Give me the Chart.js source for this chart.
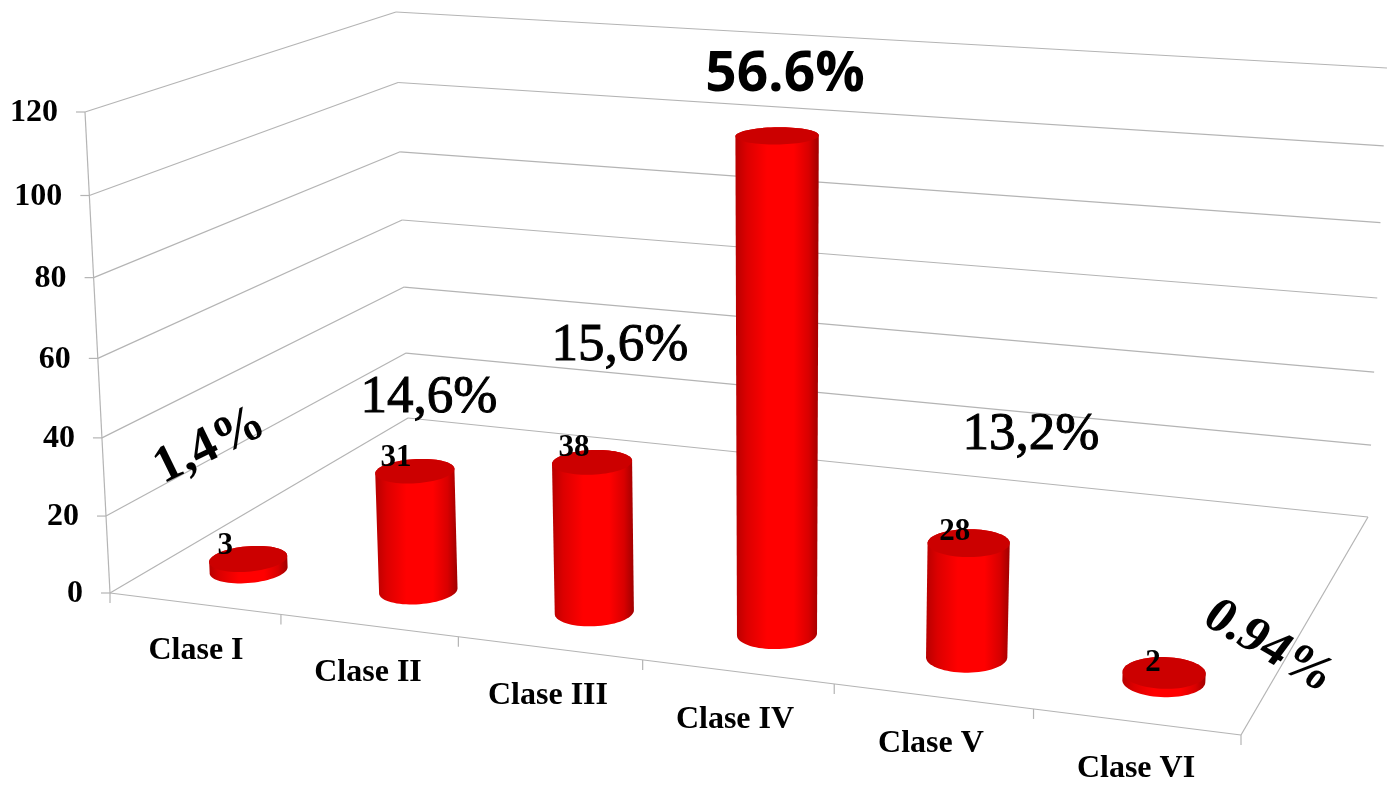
<!DOCTYPE html>
<html><head><meta charset="utf-8">
<style>html,body{margin:0;padding:0;background:#fff}canvas{display:block}</style>
<script src="https://cdn.jsdelivr.net/npm/chart.js@4/dist/chart.umd.min.js"></script>
</head><body><canvas id="c" width="1387" height="786"></canvas>
<script>
const categories = ['Clase I','Clase II','Clase III','Clase IV','Clase V','Clase VI'];
const values = [3,31,38,120,28,2];
const valueLabels = ['3','31','38','','28','2'];
const percentTexts = ['1,4%','14,6%','15,6%','56.6%','13,2%','0.94%'];
const yMax = 120, yStep = 20;

// layout of the perspective box (pixels), not data
const floorQ = [[110,593],[1241,735],[1368,517],[408,418]];
const topQ   = [[85,112],[1266,195],[1387,68],[396,12]];
const K = 0.952, BAR_DEPTH = 0.163, RV = 0.063;
const LINE = '#b4b4b4';
const xLabelPos = [[196,651],[368,673],[548,696],[735,720],[931,744],[1136,769]];
const valueOff = [[-23,-13],[-19,-13],[-18,-14],[0,0],[-14,-11],[-11,-10]];
const percentStyle = [
  {x:210,y:446,r:-26,font:'bold 52px "Liberation Serif"'},
  {x:429,y:398,r:0,font:'53px "Liberation Serif"',stroke:1},
  {x:620,y:346,r:0,font:'53px "Liberation Serif"',stroke:1},
  {x:785,y:75,r:0,font:'bold 55px "Open Sans"'},
  {x:1031,y:435,r:0,font:'53px "Liberation Serif"',stroke:1},
  {x:1269,y:647,r:30,font:'bold 51px "Liberation Serif"',skew:-.12}
];

function homography(q){
  const [[x0,y0],[x1,y1],[x2,y2],[x3,y3]] = q;
  const dx1=x1-x2,dx2=x3-x2,sx=x0-x1+x2-x3,dy1=y1-y2,dy2=y3-y2,sy=y0-y1+y2-y3;
  const den=dx1*dy2-dx2*dy1;
  const g=(sx*dy2-dx2*sy)/den,h=(dx1*sy-sx*dy1)/den;
  const a=x1-x0+g*x1,b=x3-x0+h*x3,d=y1-y0+g*y1,e=y3-y0+h*y3;
  return (u,v)=>{const w=g*u+h*v+1;return [(a*u+b*v+x0)/w,(d*u+e*v+y0)/w];};
}
const H0=homography(floorQ),H1=homography(topQ);
function proj(u,v,t){
  const s=t*K/(1+t*(K-1));
  const p=H0(u,v),q=H1(u,v);
  return [p[0]+(q[0]-p[0])*s,p[1]+(q[1]-p[1])*s];
}
function line(ctx,a,b){ctx.beginPath();ctx.moveTo(a[0],a[1]);ctx.lineTo(b[0],b[1]);ctx.stroke();}

function ellipsePts(u,v,t,du){
  const pts=[];
  for(let i=0;i<72;i++){const a=i/72*Math.PI*2;pts.push(proj(u+du*Math.cos(a),v+RV*Math.sin(a),t));}
  return pts;
}
function drawCylinder(ctx,u,t,du){
  const bot=ellipsePts(u,BAR_DEPTH,0,du),top=ellipsePts(u,BAR_DEPTH,t,du);
  const ext=(p)=>{let l=0,r=0;p.forEach((q,i)=>{if(q[0]<p[l][0])l=i;if(q[0]>p[r][0])r=i;});return [l,r];};
  const [bl,br]=ext(bot),[tl,tr]=ext(top);
  const xl=Math.min(bot[bl][0],top[tl][0]),xr=Math.max(bot[br][0],top[tr][0]);
  const g=ctx.createLinearGradient(xl,0,xr,0);
  g.addColorStop(0,'#b80000');g.addColorStop(.14,'#dc0000');g.addColorStop(.38,'#ff0000');
  g.addColorStop(.7,'#ff0000');g.addColorStop(.88,'#d80000');g.addColorStop(1,'#a00000');
  ctx.beginPath();
  const n=bot.length;
  let i=br;ctx.moveTo(bot[i][0],bot[i][1]);
  const lowerDir=(bot[(br+n-1)%n][1]>bot[(br+1)%n][1])?-1:1;
  while(i!==bl){i=(i+lowerDir+n)%n;ctx.lineTo(bot[i][0],bot[i][1]);}
  i=tl;ctx.lineTo(top[i][0],top[i][1]);
  while(i!==tr){i=(i+lowerDir+n)%n;ctx.lineTo(top[i][0],top[i][1]);}
  ctx.closePath();ctx.fillStyle=g;ctx.fill();
  ctx.beginPath();top.forEach((p,j)=>j?ctx.lineTo(p[0],p[1]):ctx.moveTo(p[0],p[1]));ctx.closePath();
  ctx.fillStyle='#cc0000';ctx.fill();
}

const perspective={
  id:'perspective',
  beforeDatasetsDraw(chart){
    const ctx=chart.ctx,y=chart.scales.y,x=chart.scales.x;
    ctx.save();ctx.strokeStyle=LINE;ctx.lineWidth=1.2;
    const tOf=v=>(y.bottom-y.getPixelForValue(v))/(y.bottom-y.top);
    y.ticks.forEach(tk=>{
      const t=tOf(tk.value),a=proj(0,0,t),b=proj(0,1,t),c=proj(1,1,t);
      line(ctx,a,b);line(ctx,b,c);line(ctx,[a[0]-9,a[1]],a);
      ctx.fillStyle='#000';ctx.font='bold 32px "Liberation Serif"';ctx.textAlign='right';ctx.textBaseline='middle';
      ctx.fillText(String(tk.value),a[0]-27,a[1]+1);
    });
    line(ctx,proj(0,0,0),proj(0,0,1));
    line(ctx,proj(0,0,0),proj(1,0,0));
    line(ctx,proj(1,0,0),proj(1,1,0));
    for(let i=0;i<=categories.length;i++){
      const p=proj(i/categories.length,0,0);line(ctx,p,[p[0],p[1]+10]);
    }
    ctx.fillStyle='#000';ctx.font='bold 32px "Liberation Serif"';ctx.textAlign='center';
    x.getLabels().forEach((l,i)=>ctx.fillText(l,xLabelPos[i][0],xLabelPos[i][1]));
    ctx.restore();
  },
  beforeDatasetDraw(chart,args){
    const ctx=chart.ctx,meta=args.meta,y=chart.scales.y,x=chart.scales.x;
    ctx.save();
    meta.data.forEach((el,i)=>{
      const u=(el.x-x.left)/(x.right-x.left),t=(el.base-el.y)/(y.bottom-y.top);
      drawCylinder(ctx,u,t,el.width/2/(x.right-x.left));
    });
    ctx.fillStyle='#000';ctx.font='bold 31px "Liberation Serif"';ctx.textAlign='center';ctx.textBaseline='middle';
    meta.data.forEach((el,i)=>{
      if(!valueLabels[i])return;
      const u=(el.x-x.left)/(x.right-x.left),t=(el.base-el.y)/(y.bottom-y.top);
      const p=proj(u,BAR_DEPTH,t);
      ctx.fillText(valueLabels[i],p[0]+valueOff[i][0],p[1]+valueOff[i][1]);
    });
    percentTexts.forEach((s,i)=>{
      const st=percentStyle[i];
      ctx.save();ctx.translate(st.x,st.y);ctx.rotate(st.r*Math.PI/180);
      if(st.skew)ctx.transform(1,0,st.skew,1,0,0);
      ctx.font=st.font;
      ctx.fillText(s,0,0);
      if(st.stroke){ctx.lineWidth=st.stroke;ctx.strokeStyle='#000';ctx.strokeText(s,0,0);}
      ctx.restore();
    });
    ctx.restore();
    return false;
  }
};

new Chart(document.getElementById('c'),{
  type:'bar',
  data:{labels:categories,datasets:[{data:values,backgroundColor:'#ff0000',barPercentage:.40,categoryPercentage:1}]},
  options:{
    responsive:false,animation:false,
    layout:{padding:{left:85,right:1387-1266,top:112,bottom:786-592}},
    plugins:{legend:{display:false},tooltip:{enabled:false}},
    scales:{
      x:{display:false},
      y:{display:false,min:0,max:yMax,ticks:{stepSize:yStep}}
    }
  },
  plugins:[perspective]
});
</script></body></html>
